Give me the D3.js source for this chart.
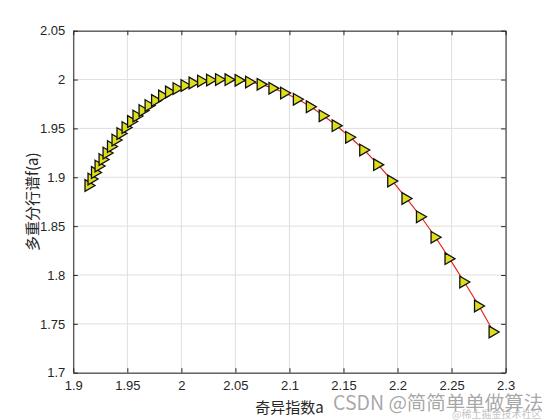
<!DOCTYPE html>
<html>
<head>
<meta charset="utf-8">
<script src="https://cdn.jsdelivr.net/npm/d3@7"></script>
<style>
  html, body { margin: 0; padding: 0; background: #fff; }
  svg { display: block; }
</style>
</head>
<body>
<svg id="chart" width="560" height="420"></svg>
<script>
// ---- data ----
const alphaValues = [
  1.9150, 1.9178, 1.9210, 1.9243, 1.9280, 1.9317, 1.9358, 1.9400, 1.9446, 1.9493,
  1.9544, 1.9594, 1.9650, 1.9706, 1.9766, 1.9831, 1.9895, 1.9965, 2.0039, 2.0113,
  2.0192, 2.0275, 2.0358, 2.0446, 2.0539, 2.0636, 2.0743, 2.0852, 2.0960, 2.1078,
  2.1198, 2.1317, 2.1437, 2.1562, 2.1692, 2.1821, 2.1951, 2.2083, 2.2217, 2.2352,
  2.2481, 2.2618, 2.2754, 2.2889
];
const fValues = [
  1.8916, 1.8982, 1.9049, 1.9115, 1.9182, 1.9248, 1.9315, 1.9381, 1.9448, 1.9509,
  1.9571, 1.9627, 1.9683, 1.9734, 1.9786, 1.9832, 1.9873, 1.9908, 1.9939, 1.9965,
  1.9985, 1.9995, 2.0000, 1.9999, 1.9992, 1.9975, 1.9951, 1.9910, 1.9862, 1.9798,
  1.9722, 1.9629, 1.9528, 1.9409, 1.9279, 1.9129, 1.8962, 1.8783, 1.8596, 1.8386,
  1.8167, 1.7928, 1.7683, 1.7417
];
const xTicks = [1.9, 1.95, 2, 2.05, 2.1, 2.15, 2.2, 2.25, 2.3];
const xTickLabels = ["1.9", "1.95", "2", "2.05", "2.1", "2.15", "2.2", "2.25", "2.3"];
const yTicks = [1.7, 1.75, 1.8, 1.85, 1.9, 1.95, 2, 2.05];
const yTickLabels = ["1.7", "1.75", "1.8", "1.85", "1.9", "1.95", "2", "2.05"];
const xLabel = "奇异指数a";
const yLabel = "多重分行谱f(a)";
const watermark = "CSDN @简简单单做算法";
const watermark2 = "@稀土掘金技术社区";

// ---- layout ----
const L = 73.3, R = 505.6, T = 30.7, B = 372.7;
const svg = d3.select("#chart");
const x = d3.scaleLinear().domain([1.9, 2.3]).range([L, R]);
const y = d3.scaleLinear().domain([1.7, 2.05]).range([B, T]);

const font = "'Liberation Sans', Arial, Helvetica, sans-serif";
const cjk = "'Noto Sans CJK SC', 'Liberation Sans', sans-serif";

// grid
const grid = svg.append("g");
grid.selectAll("line.gx").data(xTicks).join("line")
  .attr("x1", d => x(d)).attr("x2", d => x(d))
  .attr("y1", T).attr("y2", B)
  .attr("stroke", "#dfdfdf").attr("stroke-width", 1);
grid.selectAll("line.gy").data(yTicks).join("line")
  .attr("y1", d => y(d)).attr("y2", d => y(d))
  .attr("x1", L).attr("x2", R)
  .attr("stroke", "#dfdfdf").attr("stroke-width", 1);

// axes (ticks inward)
const tickLen = 4.5;
const axB = d3.axisBottom(x).tickValues(xTicks).tickSizeInner(-tickLen).tickSizeOuter(0)
  .tickPadding(8).tickFormat((d, i) => xTickLabels[i]);
const axT = d3.axisTop(x).tickValues(xTicks).tickSizeInner(-tickLen).tickSizeOuter(0).tickFormat("");
const axLeft = d3.axisLeft(y).tickValues(yTicks).tickSizeInner(-tickLen).tickSizeOuter(0)
  .tickPadding(8).tickFormat((d, i) => yTickLabels[i]);
const axRight = d3.axisRight(y).tickValues(yTicks).tickSizeInner(-tickLen).tickSizeOuter(0).tickFormat("");

function style(g) {
  g.select(".domain").attr("stroke", "#262626").attr("stroke-width", 1);
  g.selectAll(".tick line").attr("stroke", "#262626").attr("stroke-width", 1);
  g.selectAll(".tick text").attr("fill", "#262626").style("font-family", font).style("font-size", "13px");
}
svg.append("g").attr("transform", `translate(0,${B})`).call(axB).call(style);
svg.append("g").attr("transform", `translate(0,${T})`).call(axT).call(style);
svg.append("g").attr("transform", `translate(${L},0)`).call(axLeft).call(style);
svg.append("g").attr("transform", `translate(${R},0)`).call(axRight).call(style);

// data line
const pts = alphaValues.map((a, i) => [a, fValues[i]]);
svg.append("path")
  .datum(pts)
  .attr("fill", "none")
  .attr("stroke", "#e8231f")
  .attr("stroke-width", 1.2)
  .attr("d", d3.line().x(d => x(d[0])).y(d => y(d[1])));

// markers: right-pointing triangles
svg.append("g").selectAll("path").data(pts).join("path")
  .attr("transform", d => `translate(${x(d[0])},${y(d[1])})`)
  .attr("d", "M-4.5,-5.8 L5.5,0 L-4.5,5.8 Z")
  .attr("fill", "#dede1c")
  .attr("stroke", "#111")
  .attr("stroke-width", 1.3)
  .attr("stroke-linejoin", "miter");

// axis labels
svg.append("text")
  .attr("x", (L + R) / 2).attr("y", 413)
  .attr("text-anchor", "middle")
  .style("font-family", cjk).style("font-size", "15px").attr("fill", "#262626")
  .text(xLabel);
svg.append("text")
  .attr("transform", `translate(38,${(T + B) / 2}) rotate(-90)`)
  .attr("text-anchor", "middle")
  .style("font-family", cjk).style("font-size", "15px").attr("fill", "#262626")
  .text(yLabel);

// watermark
svg.append("text")
  .attr("x", 333).attr("y", 410)
  .style("font-family", cjk).style("font-size", "19.5px")
  .attr("fill", "#8a8a8a").attr("fill-opacity", 0.75)
  .text(watermark);
svg.append("text")
  .attr("x", 452).attr("y", 418)
  .style("font-family", cjk).style("font-size", "10px")
  .attr("fill", "#aaaaaa").attr("fill-opacity", 0.7)
  .text(watermark2);
</script>
</body>
</html>
